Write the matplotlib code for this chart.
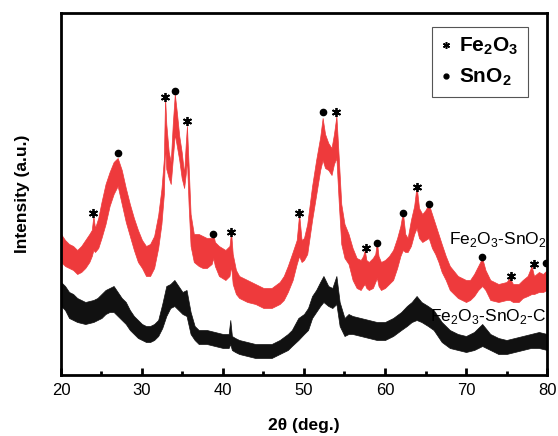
import matplotlib.pyplot as plt
from matplotlib.lines import Line2D

plt.rcParams['font.family'] = ['Liberation Sans', 'DejaVu Sans']
plt.rcParams['mathtext.fontset'] = 'custom'
plt.rcParams['mathtext.rm'] = 'Liberation Sans'
plt.rcParams['mathtext.bf'] = 'Liberation Sans:bold'

# 2theta positions and upper/lower edges of the noisy traces (arbitrary intensity units)
red_theta = [20.0, 20.5, 21.0, 21.5, 22.0, 22.5, 23.0, 23.5, 23.8, 24.0, 24.2, 24.6,
             25.0, 25.5, 26.0, 26.5, 27.0, 27.5, 28.0, 28.5, 29.0, 29.5, 30.0, 30.5,
             31.0, 31.5, 32.0, 32.4, 32.7, 32.85, 33.0, 33.3, 33.55, 33.8, 34.05, 34.3,
             34.6, 34.9, 35.2, 35.4, 35.55, 35.75, 36.0, 36.4, 37.0, 37.5, 38.0, 38.6,
             38.8, 39.0, 39.5, 40.3, 40.8, 41.0, 41.2, 41.6, 42.0, 43.0, 44.0, 45.0,
             46.0, 47.0, 47.5, 48.0, 48.6, 49.1, 49.4, 49.7, 50.0, 50.4, 51.0, 51.5,
             52.0, 52.3, 52.6, 53.0, 53.4, 53.7, 54.0, 54.3, 54.6, 55.0, 55.5, 56.0,
             56.5, 57.0, 57.3, 57.5, 57.7, 58.0, 58.5, 58.8, 59.0, 59.2, 59.5, 60.0,
             60.5, 61.0, 61.5, 61.9, 62.2, 62.5, 62.8, 63.2, 63.6, 63.9, 64.2, 64.6,
             65.0, 65.4, 65.8, 66.2, 66.6, 67.0, 67.5, 68.0, 69.0, 70.0, 70.5, 71.0,
             71.5, 72.0, 72.4, 73.0, 74.0, 75.0, 75.4, 75.8, 76.5, 77.0, 77.6, 78.1,
             78.4, 79.0, 79.5, 80.0]
red_upper = [140, 134, 130, 128, 124, 128, 134, 140, 144, 158, 146, 156,
             172, 190, 202, 212, 216, 204, 186, 170, 156, 144, 134, 128,
             130, 138, 159, 185, 215, 277, 250, 222, 212, 250, 280, 262,
             238, 222, 200, 230, 248, 210, 160, 140, 140, 138, 136, 136,
             140, 132, 128, 124, 128, 142, 120, 104, 98, 94, 90, 86,
             86, 92, 98, 108, 122, 134, 160, 134, 136, 150, 188, 214,
             237, 256, 240, 231, 226, 240, 258, 215, 170, 150, 140, 126,
             116, 114, 118, 124, 114, 112, 116, 120, 132, 118, 112, 114,
             118, 124, 136, 148, 162, 140, 136, 154, 168, 188, 166, 160,
             164, 170, 160, 150, 140, 130, 118, 108, 98, 94, 94, 100,
             108, 116, 104, 94, 90, 92, 96, 90, 90, 94, 98, 108,
             98, 102, 100, 104]
red_lower = [112, 108, 106, 104, 100, 102, 106, 112, 118, 124, 122, 126,
             136, 150, 168, 180, 188, 170, 152, 138, 124, 112, 106, 98,
             98, 106, 126, 150, 180, 230, 205, 196, 190, 215, 240, 228,
             214, 196, 186, 200, 215, 170, 128, 112, 108, 106, 106, 110,
             116, 108, 98, 94, 98, 108, 90, 80, 76, 72, 70, 66,
             66, 70, 74, 82, 94, 110, 118, 112, 114, 120, 154, 179,
             204, 214, 206, 204, 199, 210, 216, 170, 130, 116, 110, 94,
             86, 84, 88, 90, 86, 84, 86, 92, 96, 88, 84, 86,
             90, 94, 106, 118, 124, 122, 122, 128, 140, 146, 136, 132,
             134, 136, 126, 120, 112, 102, 94, 84, 76, 72, 74, 78,
             84, 88, 84, 74, 72, 74, 74, 72, 72, 76, 78, 80,
             80, 82, 82, 84]

black_theta = [20.0, 20.5, 21.0, 21.5, 22.0, 23.0, 24.0, 24.5, 25.0, 25.5, 26.0, 26.5,
               27.0, 27.5, 28.0, 28.5, 29.0, 29.5, 30.0, 30.5, 31.0, 31.5, 32.0, 32.5,
               33.0, 33.5, 34.0, 34.5, 35.0, 35.5, 36.0, 36.5, 37.0, 38.0, 39.0, 40.0,
               40.7, 40.9, 41.1, 41.5, 42.0, 43.0, 44.0, 45.0, 46.0, 47.0, 48.0, 48.5,
               49.3, 50.0, 50.5, 51.0, 51.5, 52.0, 52.4, 53.0, 53.5, 54.0, 54.4, 55.0,
               55.5, 56.0, 57.0, 58.0, 59.0, 60.0, 61.0, 62.0, 62.7, 63.3, 63.9, 64.5,
               65.3, 66.0, 67.0, 68.0, 69.0, 70.0, 71.0, 72.0, 73.0, 74.0, 75.0, 76.0,
               77.0, 78.0, 79.0, 80.0]
black_upper = [92, 88, 82, 80, 76, 72, 74, 76, 80, 84, 86, 88,
               82, 76, 72, 64, 58, 54, 50, 48, 48, 50, 54, 70,
               88, 90, 94, 88, 82, 84, 62, 48, 44, 44, 42, 40,
               40, 54, 38, 36, 34, 32, 30, 30, 30, 34, 40, 44,
               56, 60, 66, 78, 84, 92, 98, 88, 86, 98, 72, 56,
               60, 58, 56, 54, 52, 52, 56, 62, 68, 72, 78, 72,
               68, 64, 52, 44, 40, 38, 42, 50, 40, 36, 34, 36,
               38, 40, 42, 40]
black_lower = [68, 64, 56, 54, 52, 50, 52, 54, 56, 60, 62, 62,
               58, 54, 50, 44, 40, 36, 34, 32, 32, 34, 38, 46,
               58, 66, 68, 64, 60, 58, 40, 34, 30, 30, 28, 26,
               26, 30, 24, 22, 20, 18, 16, 16, 16, 20, 24, 28,
               34, 40, 44, 56, 62, 68, 72, 68, 66, 70, 48, 38,
               40, 40, 38, 36, 34, 34, 38, 44, 48, 52, 54, 52,
               48, 44, 32, 26, 24, 22, 24, 28, 24, 20, 20, 22,
               24, 26, 26, 24]

# reflection markers: Fe2O3 (asterisk) and SnO2 (dot)
fe2o3_theta = [24.0, 32.9, 35.6, 41.0, 49.4, 54.0, 57.6, 64.0, 75.6, 78.4]
fe2o3_level = [161, 277, 253, 142, 161, 262, 126, 187, 98, 110]
sno2_theta = [27.0, 34.1, 38.8, 52.4, 59.0, 62.2, 65.4, 72.0, 79.9]
sno2_level = [221, 283, 140, 262, 131, 161, 170, 117, 111]

red = '#ee3a3c'
asterisk = (6, 2, 0)

fig = plt.figure(figsize=(5.58, 4.36), dpi=100)
ax = fig.add_axes([0.1093, 0.1399, 0.8710, 0.8303])

ax.fill_between(black_theta, black_lower, black_upper, color='#111111', lw=0.5)
ax.fill_between(red_theta, red_lower, red_upper, color=red, lw=0.5)

ax.plot(fe2o3_theta, fe2o3_level, ls='none', marker=asterisk, ms=6.5,
        mew=1.3, color='black')
ax.plot(sno2_theta, sno2_level, ls='none', marker='o', ms=4.5, color='black')

ax.text(79.9, 134, r'Fe$_2$O$_3$-SnO$_2$', ha='right', va='center', fontsize=12.5)
ax.text(79.9, 58, r'Fe$_2$O$_3$-SnO$_2$-C', ha='right', va='center', fontsize=12.5)

handles = [Line2D([], [], ls='none', marker=asterisk, ms=5, mew=1.1, color='black'),
           Line2D([], [], ls='none', marker='o', ms=3.5, color='black')]
leg = ax.legend(handles, [r'$\mathbf{Fe_2O_3}$', r'$\mathbf{SnO_2}$'],
                loc='upper right', bbox_to_anchor=(0.96, 0.962), fontsize=15,
                fancybox=False, framealpha=1, edgecolor='#555555',
                handlelength=0.5, handletextpad=0.35, borderpad=0.45,
                labelspacing=0.45, borderaxespad=0)
leg.get_frame().set_linewidth(0.8)

ax.set_xlim(20, 80)
ax.set_ylim(-1, 361)
ax.set_xticks(range(20, 81, 10))
ax.set_xticks(range(25, 80, 10), minor=True)
ax.set_yticks([])
ax.tick_params(axis='x', which='major', direction='in', length=5, width=2,
               labelsize=12, pad=6)
ax.tick_params(axis='x', which='minor', direction='in', length=3, width=2)
for s in ax.spines.values():
    s.set_linewidth(2)

ax.set_xlabel('2θ (deg.)', fontsize=12.5, fontweight='bold', labelpad=14)
ax.set_ylabel('Intensity (a.u.)', fontsize=12.5, fontweight='bold', labelpad=22)

fig.savefig('out.png', dpi=100)
